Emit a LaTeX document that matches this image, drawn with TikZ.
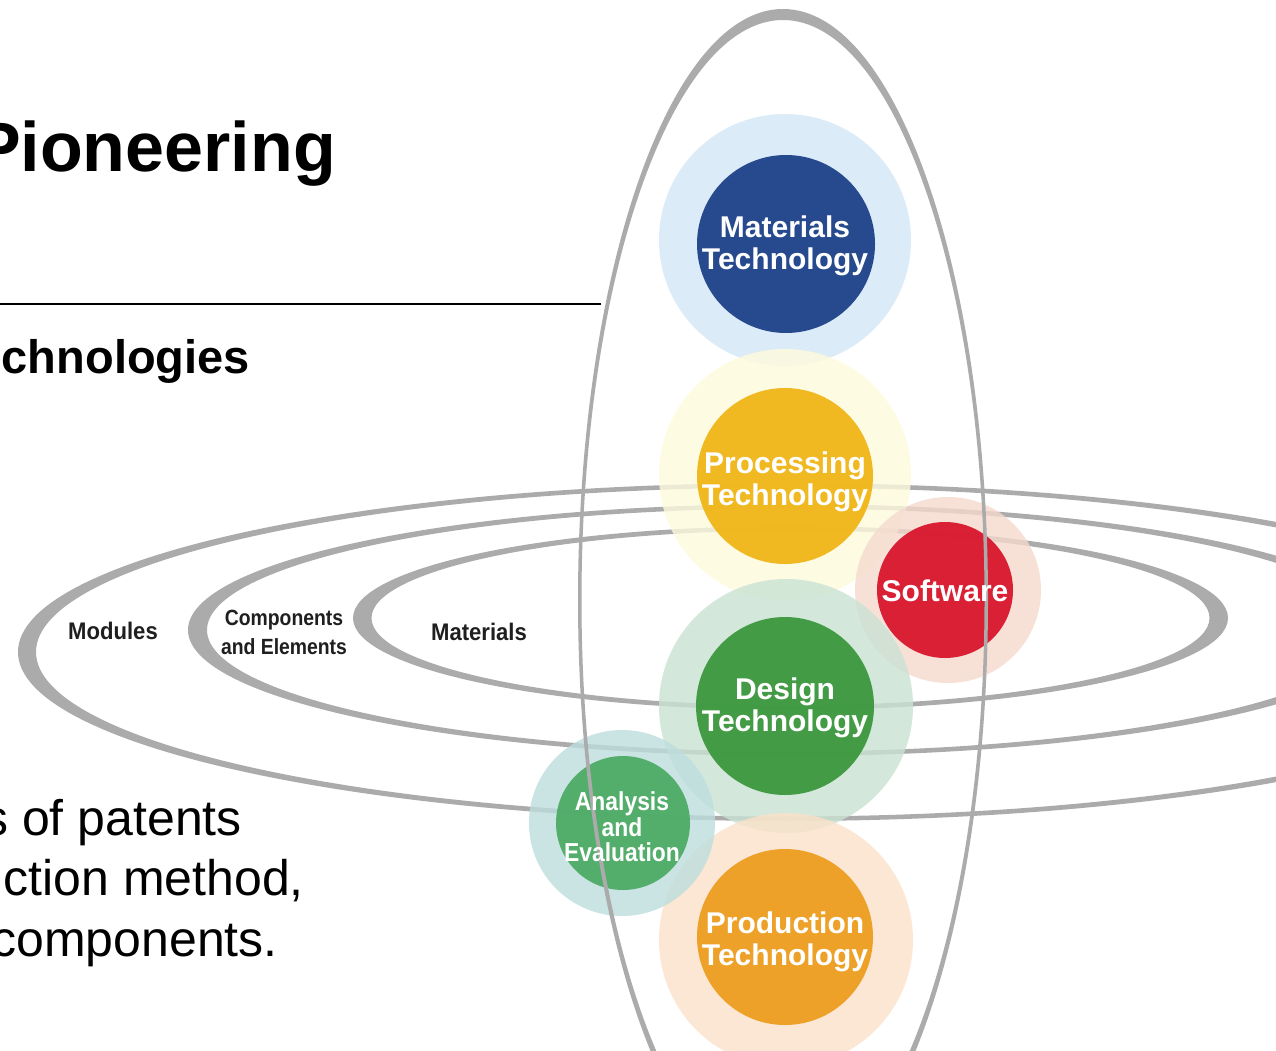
\documentclass[tikz,border=0pt]{standalone}
\usepackage{fontspec}
\setmainfont{Liberation Sans}
\newfontfamily\labfont{Liberation Sans}[FakeStretch=0.92]
\newfontfamily\cmpfont{Liberation Sans}[FakeStretch=0.88]
\newfontfamily\aefont{Liberation Sans}[FakeStretch=0.88]
\definecolor{ringgray}{RGB}{171,171,171}
\definecolor{bluehalo}{RGB}{211,231,246}
\definecolor{yelhalo}{RGB}{254,250,221}
\definecolor{pinkhalo}{RGB}{245,218,205}
\definecolor{greenhalo}{RGB}{201,226,211}
\definecolor{tealhalo}{RGB}{189,221,221}
\definecolor{peachhalo}{RGB}{251,226,201}
\definecolor{matcore}{RGB}{28,64,136}
\definecolor{proccore}{RGB}{241,181,21}
\definecolor{softcore}{RGB}{216,20,43}
\definecolor{descore}{RGB}{58,152,60}
\definecolor{anacore}{RGB}{76,170,100}
\definecolor{prodcore}{RGB}{238,157,30}
\begin{document}
\begin{tikzpicture}[x=1pt,y=-1pt,
  halo/.style={circle, inner sep=0pt, fill opacity=0.8},
  core/.style={circle, inner sep=0pt, fill opacity=0.94},
  coretext/.style={text=white, inner sep=0pt, align=center,
    font=\fontsize{30}{32}\selectfont\bfseries},
  ringlabel/.style={text=black!88, inner sep=0pt, align=center,
    font=\labfont\fontsize{24}{26}\selectfont\bfseries},
  headtext/.style={anchor=base east, inner sep=0pt, text=black},
  bodytext/.style={anchor=base east, inner sep=0pt, text=black,
    font=\fontsize{50}{60}\selectfont},
  ring/.style={fill=ringgray, even odd rule}]
\useasboundingbox (0,0) rectangle (1276,1051);
\clip (0,0) rectangle (1276,1051);
\fill[white] (0,0) rectangle (1276,1051);

% horizontal rings
\fill[ring] (786,652) ellipse [x radius=768, y radius=169]
            (786,652) ellipse [x radius=750, y radius=164.5];
\fill[ring] (790,630) ellipse [x radius=602, y radius=126]
            (790,630) ellipse [x radius=583, y radius=121.5];
\fill[ring] (790.5,618) ellipse [x radius=437.5, y radius=92]
            (790.5,618) ellipse [x radius=419, y radius=87.5];

% halos
\node[halo, fill=bluehalo, minimum size=252pt] (matH) at (785,240) {};
\node[halo, fill=yelhalo, minimum size=252pt] (procH) at (785,475) {};
\node[halo, fill=pinkhalo, minimum size=186pt] (softH) at (948,590) {};
\node[halo, fill=greenhalo, minimum size=254pt] (desH) at (786,706) {};
\node[halo, fill=peachhalo, minimum size=254pt] (prodH) at (786,940) {};
\node[halo, fill=tealhalo, minimum size=186pt] (anaH) at (622,823) {};

% cores
\node[core, fill=matcore, minimum size=178pt] (matC) at (786,244) {};
\node[core, fill=proccore, minimum size=176pt] (procC) at (785,476) {};
\node[core, fill=softcore, minimum size=136pt] (softC) at (945,590) {};
\node[core, fill=descore, minimum size=178pt] (desC) at (785,706) {};
\node[core, fill=anacore, minimum size=134pt] (anaC) at (623,823) {};
\node[core, fill=prodcore, minimum size=176pt] (prodC) at (785,937) {};

% vertical ring
\fill[ring] (783,600) ellipse [x radius=205, y radius=591]
            (783,600) ellipse [x radius=201.5, y radius=580];

% circle texts
\node[coretext] (matT) at (785,246) {Materials\\Technology};
\node[coretext] (procT) at (785,482) {Processing\\Technology};
\node[coretext] (softT) at (945,591) {Software};
\node[coretext] (desT) at (785,708) {Design\\Technology};
\node[coretext, font=\aefont\fontsize{26}{25.5}\selectfont\bfseries] (anaT) at (622,827) {Analysis\\and\\Evaluation};
\node[coretext] (prodT) at (785,942) {Production\\Technology};

% ring labels
\node[ringlabel] (modL) at (113,631) {Modules};
\node[ringlabel, font=\cmpfont\fontsize{22}{29}\selectfont\bfseries] (cmpL) at (284,632) {Components\\and Elements};
\node[ringlabel] (matL) at (479,632) {Materials};

% left texts
\node[headtext, font=\fontsize{70}{80}\selectfont\bfseries] (title) at (336,172) {Pioneering};
\coordinate (ruleL) at (0,304);
\coordinate (ruleR) at (601,304);
\draw[line width=2.8pt] (ruleL) -- (ruleR);
\node[headtext, font=\fontsize{47}{50}\selectfont\bfseries] (subt) at (250,373) {chnologies};
\node[bodytext] (b1) at (242,835) {s of patents};
\node[bodytext] (b2) at (304,895) {ction method,};
\node[bodytext] (b3) at (278,956) {components.};
\end{tikzpicture}
\end{document}
